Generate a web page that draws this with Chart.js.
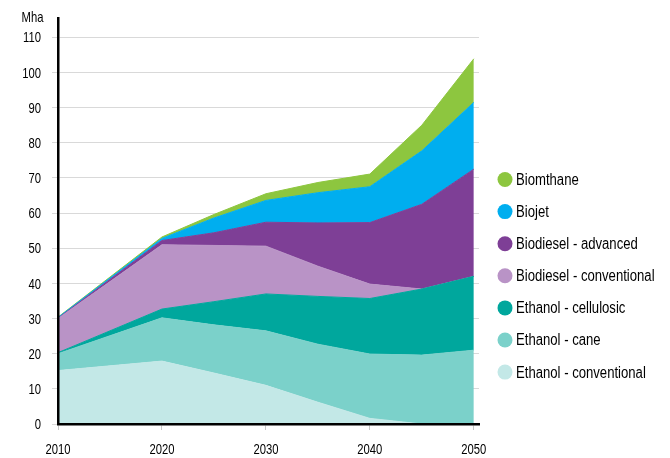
<!DOCTYPE html>
<html>
<head>
<meta charset="utf-8">
<script src="https://cdn.jsdelivr.net/npm/chart.js@4.4.0/dist/chart.umd.min.js"></script>
<style>
    html, body { margin: 0; padding: 0; background: #fff; }
    #wrap { width: 670px; height: 458px; position: relative; }
</style>
</head>
<body>
<div id="wrap"><canvas id="landChart" width="670" height="458"></canvas></div>
<script>
// Land use for biofuels, Mha
const years = [2010, 2020, 2025, 2030, 2035, 2040, 2045, 2050];
const ethanolConventional   = [15.2, 17.9, 14.5, 11.0, 6.2, 1.6, 0, 0];
const ethanolCane           = [4.8, 12.3, 13.7, 15.5, 16.5, 18.3, 19.6, 21.0];
const ethanolCellulosic     = [0.3, 2.5, 6.6, 10.5, 13.6, 15.8, 18.8, 21.0];
const biodieselConventional = [9.7, 18.3, 16.0, 13.6, 8.6, 4.1, 0, 0];
const biodieselAdvanced     = [0.1, 1.2, 3.6, 6.8, 12.3, 17.5, 24.1, 30.5];
const biojet                = [0.2, 0.6, 4.2, 6.2, 8.6, 10.2, 15.2, 19.0];
const biomethane            = [0.1, 0.4, 1.0, 1.9, 2.9, 3.6, 7.3, 12.4];

const yTicks = [0, 10, 20, 30, 40, 50, 60, 70, 80, 90, 100, 110];
const xTicks = [2010, 2020, 2030, 2040, 2050];

// bottom of the stack first
const series = [
    { label: 'Ethanol - conventional',   values: ethanolConventional,   color: '#c3e8e7' },
    { label: 'Ethanol - cane',           values: ethanolCane,           color: '#7bd1ca' },
    { label: 'Ethanol - cellulosic',     values: ethanolCellulosic,     color: '#00a79d' },
    { label: 'Biodiesel - conventional', values: biodieselConventional, color: '#b993c6' },
    { label: 'Biodiesel - advanced',     values: biodieselAdvanced,     color: '#7e3f96' },
    { label: 'Biojet',                   values: biojet,                color: '#00aeef' },
    { label: 'Biomthane',                values: biomethane,            color: '#8dc63f' }
];

// no narrow font installed, so text is squeezed horizontally by hand
const FONT = "'Liberation Sans', Arial, sans-serif";

function narrowText(ctx, text, x, y, size, squeeze, align) {
    ctx.save();
    ctx.font = size + 'px ' + FONT;
    ctx.textAlign = align;
    ctx.textBaseline = 'middle';
    ctx.translate(x, y);
    ctx.scale(squeeze, 1);
    ctx.fillText(text, 0, 0);
    ctx.restore();
}

const datasets = series.map((s, i) => ({
    label: s.label,
    data: years.map((yr, j) => ({ x: yr, y: s.values[j] })),
    backgroundColor: s.color,
    borderColor: s.color,
    borderWidth: 1,
    pointRadius: 0,
    tension: 0,
    fill: i === 0 ? 'origin' : '-1'
}));

// tick labels, unit and legend drawn on the canvas
const labelsAndLegend = {
    id: 'labelsAndLegend',
    afterDraw(chart) {
        const ctx = chart.ctx;
        const xs = chart.scales.x;
        const ys = chart.scales.y;
        ctx.save();
        ctx.fillStyle = '#000';

        ys.ticks.forEach(t => {
            narrowText(ctx, String(t.value), 41, ys.getPixelForValue(t.value) + 1, 15, 0.75, 'right');
        });
        xs.ticks.forEach(t => {
            narrowText(ctx, String(t.value), xs.getPixelForValue(t.value), 449.5, 15, 0.75, 'center');
        });
        narrowText(ctx, 'Mha', 43.5, 17.5, 15, 0.75, 'right');

        const items = series.slice().reverse();
        items.forEach((s, i) => {
            const y = 179.5 + i * 32.1;
            ctx.beginPath();
            ctx.arc(505, y, 7.5, 0, Math.PI * 2);
            ctx.fillStyle = s.color;
            ctx.fill();
            ctx.fillStyle = '#000';
            narrowText(ctx, s.label, 516, y + 1, 16, 0.82, 'left');
        });
        ctx.restore();
    }
};

const ctx = document.getElementById('landChart').getContext('2d');
new Chart(ctx, {
    type: 'line',
    data: { datasets: datasets },
    options: {
        responsive: false,
        animation: false,
        layout: { padding: { top: 18, right: 191, left: 0, bottom: 0 } },
        plugins: {
            legend: { display: false },
            tooltip: { enabled: false }
        },
        scales: {
            x: {
                type: 'linear',
                min: 2010,
                max: 2050.5,
                afterBuildTicks: scale => { scale.ticks = xTicks.map(v => ({ value: v })); },
                afterFit: scale => { scale.height = 34; },
                ticks: { display: false },
                grid: { drawOnChartArea: false, color: '#c8c8c8', tickLength: 6 },
                border: { color: '#000', width: 2.5, z: 1 }
            },
            y: {
                stacked: true,
                min: 0,
                max: 115.5,
                afterBuildTicks: scale => { scale.ticks = yTicks.map(v => ({ value: v })); },
                afterFit: scale => { scale.width = 58; },
                ticks: { display: false },
                grid: { color: '#d9d9d9', lineWidth: 1, tickLength: 6 },
                border: { color: '#000', width: 2.5, z: 1 }
            }
        }
    },
    plugins: [labelsAndLegend]
});
</script>
</body>
</html>
